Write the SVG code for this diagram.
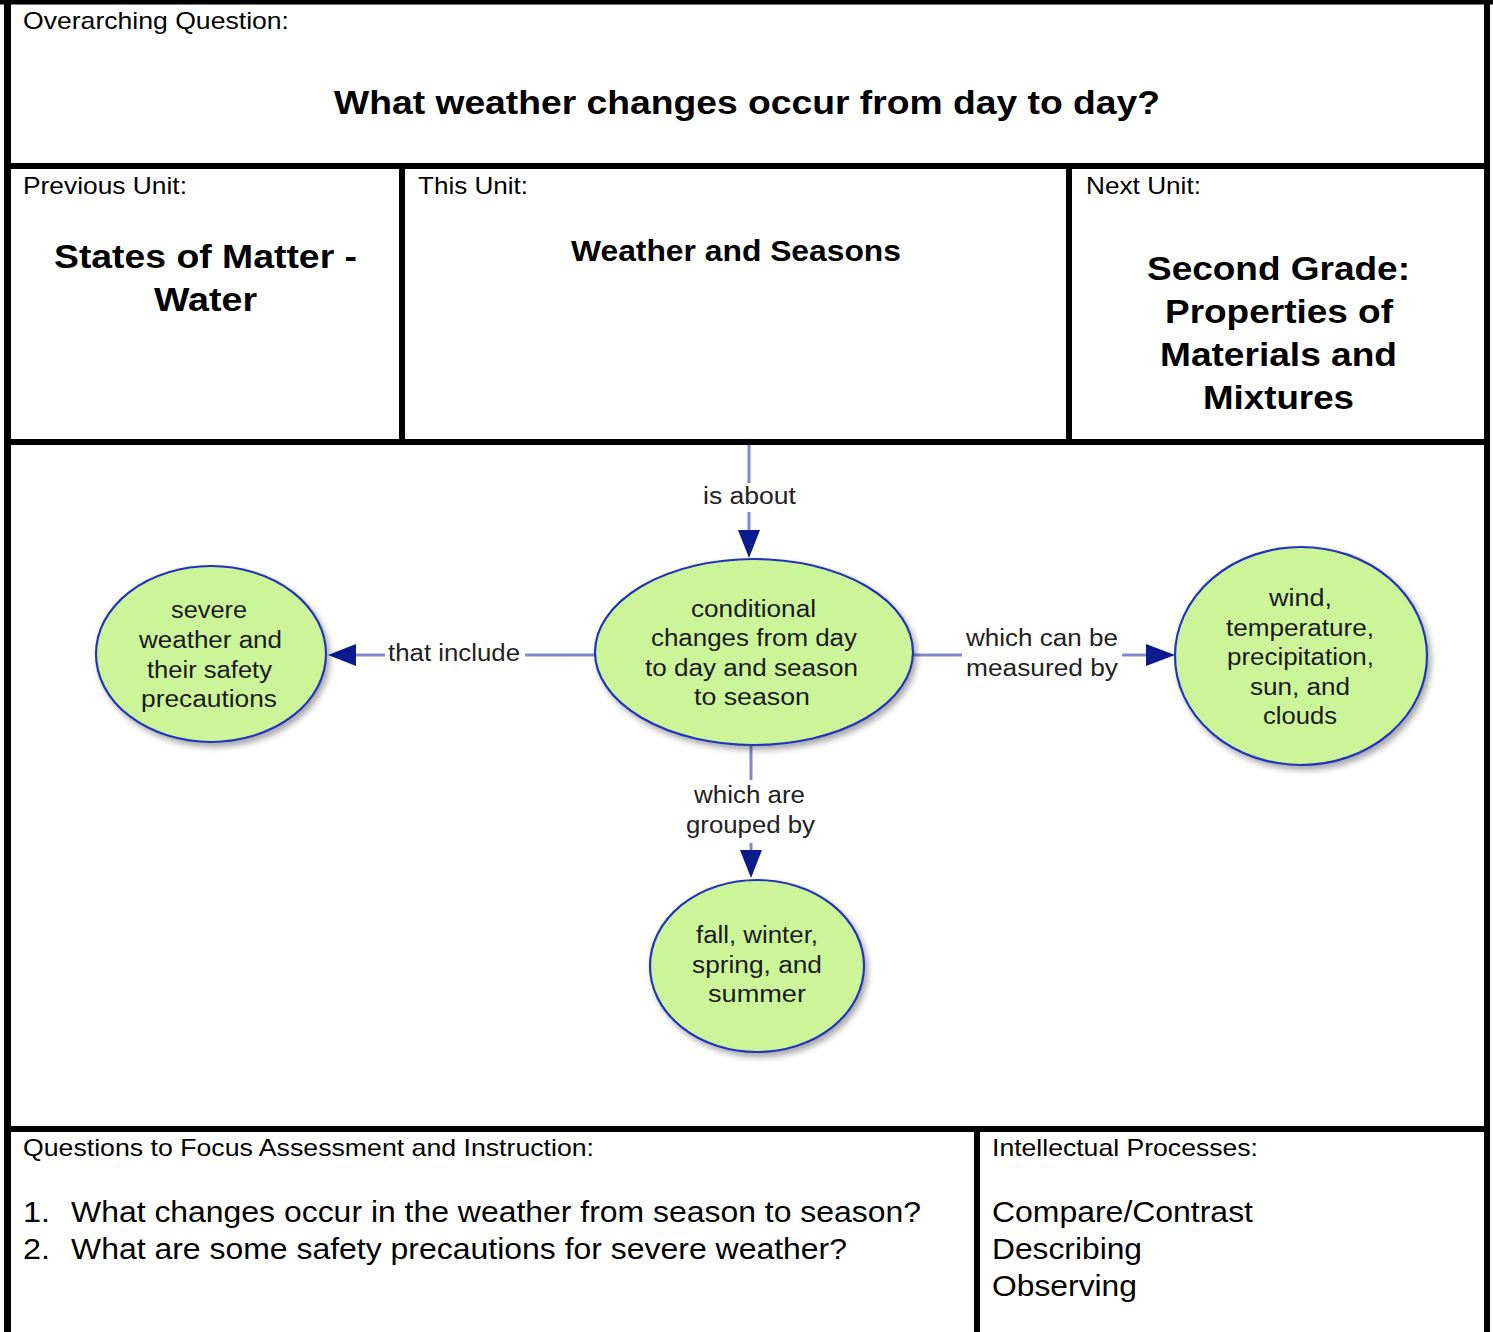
<svg xmlns="http://www.w3.org/2000/svg" width="1493" height="1332" viewBox="0 0 1493 1332">
<defs>
<style>
.b{stroke:#000;stroke-width:6;fill:none}
.h{font-family:"Liberation Sans",Arial,sans-serif;font-size:24px;fill:#000}
.t{font-family:"Liberation Sans",Arial,sans-serif;font-weight:bold;fill:#000}
.q{font-family:"Liberation Sans",Arial,sans-serif;font-size:29px;fill:#000}
.n{font-family:"Liberation Sans",Arial,sans-serif;font-size:23px;fill:#1a1a1a}
.l{font-family:"Liberation Sans",Arial,sans-serif;font-size:23px;fill:#222}
.node{fill:#ccf59a;stroke:#2035b8;stroke-width:2.2}
.c{stroke:#8088c8;stroke-width:3;fill:none}
.a{fill:#0b1a8c}
</style>
<filter id="sh" x="-20%" y="-20%" width="140%" height="140%">
<feGaussianBlur in="SourceAlpha" stdDeviation="3"/>
<feOffset dx="3" dy="4" result="o"/>
<feComponentTransfer><feFuncA type="linear" slope="0.35"/></feComponentTransfer>
<feMerge><feMergeNode/><feMergeNode in="SourceGraphic"/></feMerge>
</filter>
</defs>
<rect width="1493" height="1332" fill="#fff"/>

<g id="frame">
<line class="b" x1="0" y1="2" x2="1493" y2="2" style="stroke-width:5"/>
<line class="b" x1="7.5" y1="0" x2="7.5" y2="1332" style="stroke-width:7"/>
<line class="b" x1="1487" y1="0" x2="1487" y2="1332"/>
<line class="b" x1="4" y1="166" x2="1490" y2="166"/>
<line class="b" x1="4" y1="442" x2="1490" y2="442"/>
<line class="b" x1="4" y1="1129" x2="1490" y2="1129"/>
<line class="b" x1="402" y1="166" x2="402" y2="442"/>
<line class="b" x1="1069" y1="166" x2="1069" y2="442"/>
<line class="b" x1="977" y1="1129" x2="977" y2="1332"/>
</g>

<g id="header">
<text class="h" x="23" y="29" textLength="266" lengthAdjust="spacingAndGlyphs">Overarching Question:</text>
<text class="t" x="334" y="114" font-size="33" textLength="826" lengthAdjust="spacingAndGlyphs">What weather changes occur from day to day?</text>
<text class="h" x="23" y="194" textLength="164" lengthAdjust="spacingAndGlyphs">Previous Unit:</text>
<text class="t" x="54" y="268" font-size="34" textLength="303" lengthAdjust="spacingAndGlyphs">States of Matter -</text>
<text class="t" x="154" y="311" font-size="34" textLength="103" lengthAdjust="spacingAndGlyphs">Water</text>
<text class="h" x="418" y="194" textLength="110" lengthAdjust="spacingAndGlyphs">This Unit:</text>
<text class="t" x="571" y="261" font-size="29" textLength="330" lengthAdjust="spacingAndGlyphs">Weather and Seasons</text>
<text class="h" x="1086" y="194" textLength="115" lengthAdjust="spacingAndGlyphs">Next Unit:</text>
<text class="t" x="1147" y="280" font-size="34" textLength="263" lengthAdjust="spacingAndGlyphs">Second Grade:</text>
<text class="t" x="1165" y="323" font-size="34" textLength="228" lengthAdjust="spacingAndGlyphs">Properties of</text>
<text class="t" x="1160" y="366" font-size="34" textLength="237" lengthAdjust="spacingAndGlyphs">Materials and</text>
<text class="t" x="1203" y="409" font-size="34" textLength="151" lengthAdjust="spacingAndGlyphs">Mixtures</text>
</g>

<g id="connectors">
<line class="c" x1="749" y1="445" x2="749" y2="483"/>
<line class="c" x1="749" y1="512" x2="749" y2="532"/>
<polygon class="a" points="738,530 760,530 749,558"/>
<line class="c" x1="595" y1="655" x2="525" y2="655"/>
<line class="c" x1="385" y1="655" x2="354" y2="655"/>
<polygon class="a" points="356,644 356,666 328,655"/>
<line class="c" x1="913" y1="655" x2="962" y2="655"/>
<line class="c" x1="1122" y1="655" x2="1148" y2="655"/>
<polygon class="a" points="1146,644 1146,666 1175,655"/>
<line class="c" x1="751" y1="746" x2="751" y2="780"/>
<line class="c" x1="751" y1="843" x2="751" y2="852"/>
<polygon class="a" points="740,850 762,850 751,878"/>
</g>

<g id="labels">
<text class="l" x="703" y="504" textLength="93" lengthAdjust="spacingAndGlyphs">is about</text>
<text class="l" x="388" y="661" textLength="132" lengthAdjust="spacingAndGlyphs">that include</text>
<text class="l" x="966" y="646" textLength="152" lengthAdjust="spacingAndGlyphs">which can be</text>
<text class="l" x="966" y="676" textLength="152" lengthAdjust="spacingAndGlyphs">measured by</text>
<text class="l" x="694" y="803" textLength="111" lengthAdjust="spacingAndGlyphs">which are</text>
<text class="l" x="686" y="833" textLength="129" lengthAdjust="spacingAndGlyphs">grouped by</text>
</g>

<g id="node-center">
<ellipse class="node" cx="754" cy="652" rx="159" ry="93" filter="url(#sh)"/>
<text class="n" x="691" y="617" textLength="125" lengthAdjust="spacingAndGlyphs">conditional</text>
<text class="n" x="651" y="646" textLength="206" lengthAdjust="spacingAndGlyphs">changes from day</text>
<text class="n" x="645" y="676" textLength="213" lengthAdjust="spacingAndGlyphs">to day and season</text>
<text class="n" x="694" y="705" textLength="116" lengthAdjust="spacingAndGlyphs">to season</text>
</g>

<g id="node-severe">
<ellipse class="node" cx="211" cy="654" rx="115" ry="88" filter="url(#sh)"/>
<text class="n" x="171" y="618" textLength="76" lengthAdjust="spacingAndGlyphs">severe</text>
<text class="n" x="139" y="648" textLength="143" lengthAdjust="spacingAndGlyphs">weather and</text>
<text class="n" x="147" y="678" textLength="125" lengthAdjust="spacingAndGlyphs">their safety</text>
<text class="n" x="141" y="707" textLength="136" lengthAdjust="spacingAndGlyphs">precautions</text>
</g>

<g id="node-measures">
<ellipse class="node" cx="1301" cy="656" rx="126" ry="109" filter="url(#sh)"/>
<text class="n" x="1269" y="606" textLength="63" lengthAdjust="spacingAndGlyphs">wind,</text>
<text class="n" x="1226" y="636" textLength="148" lengthAdjust="spacingAndGlyphs">temperature,</text>
<text class="n" x="1227" y="665" textLength="147" lengthAdjust="spacingAndGlyphs">precipitation,</text>
<text class="n" x="1250" y="695" textLength="100" lengthAdjust="spacingAndGlyphs">sun, and</text>
<text class="n" x="1263" y="724" textLength="74" lengthAdjust="spacingAndGlyphs">clouds</text>
</g>

<g id="node-seasons">
<ellipse class="node" cx="757" cy="966" rx="107" ry="86" filter="url(#sh)"/>
<text class="n" x="696" y="943" textLength="122" lengthAdjust="spacingAndGlyphs">fall, winter,</text>
<text class="n" x="692" y="973" textLength="130" lengthAdjust="spacingAndGlyphs">spring, and</text>
<text class="n" x="708" y="1002" textLength="98" lengthAdjust="spacingAndGlyphs">summer</text>
</g>

<g id="footer">
<text class="h" x="23" y="1156" textLength="571" lengthAdjust="spacingAndGlyphs">Questions to Focus Assessment and Instruction:</text>
<text class="q" x="23" y="1222" textLength="27" lengthAdjust="spacingAndGlyphs">1.</text>
<text class="q" x="71" y="1222" textLength="850" lengthAdjust="spacingAndGlyphs">What changes occur in the weather from season to season?</text>
<text class="q" x="23" y="1259" textLength="27" lengthAdjust="spacingAndGlyphs">2.</text>
<text class="q" x="71" y="1259" textLength="776" lengthAdjust="spacingAndGlyphs">What are some safety precautions for severe weather?</text>
<text class="h" x="992" y="1156" textLength="266" lengthAdjust="spacingAndGlyphs">Intellectual Processes:</text>
<text class="q" x="992" y="1222" textLength="261" lengthAdjust="spacingAndGlyphs">Compare/Contrast</text>
<text class="q" x="992" y="1259" textLength="150" lengthAdjust="spacingAndGlyphs">Describing</text>
<text class="q" x="992" y="1296" textLength="145" lengthAdjust="spacingAndGlyphs">Observing</text>
</g>
</svg>
